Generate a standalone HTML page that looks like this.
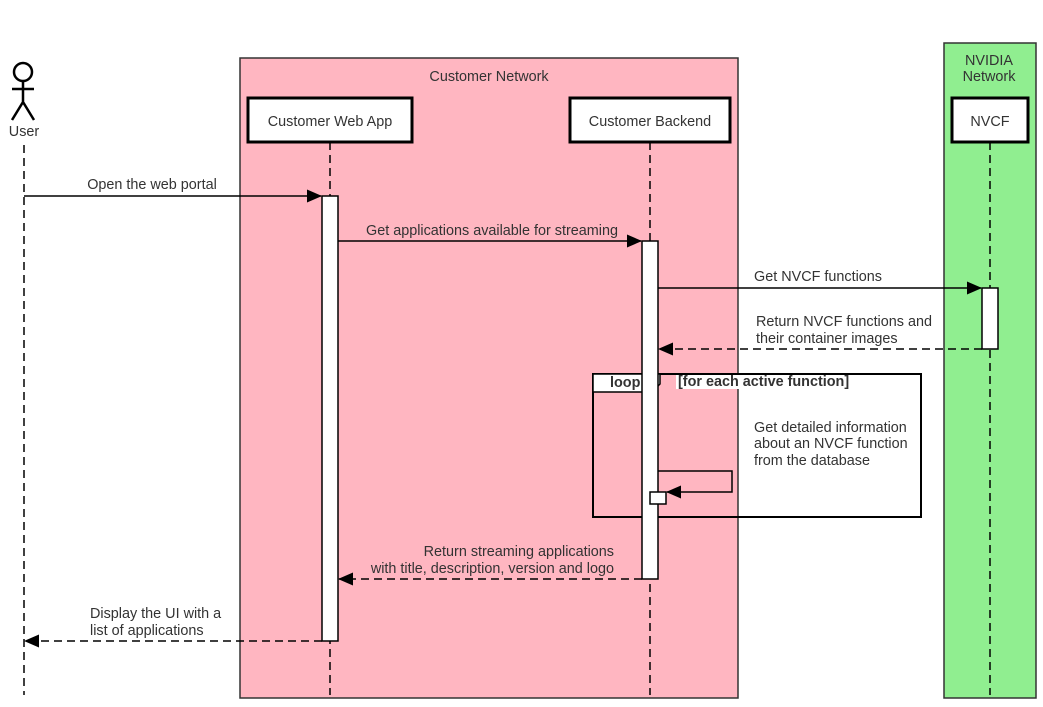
<!DOCTYPE html>
<html><head><style>body{margin:0;background:#fff}svg{display:block}text{font-family:"Liberation Sans",sans-serif;font-size:14.4px;fill:#333}</style></head>
<body>
<svg width="1043" height="707" viewBox="0 0 1043 707">
<defs><marker id="a" markerWidth="15" markerHeight="13" refX="14" refY="6.5" orient="auto" markerUnits="userSpaceOnUse"><path d="M0,0 L15,6.5 L0,13z" fill="#000"/></marker></defs>
<rect x="240" y="58" width="498" height="640" fill="#ffb6c1" stroke="#333" stroke-width="1.5"/>
<text x="489" y="81" text-anchor="middle">Customer Network</text>
<rect x="944" y="43" width="92" height="655" fill="#90ee90" stroke="#333" stroke-width="1.5"/>
<text x="989" y="65" text-anchor="middle">NVIDIA</text>
<text x="989" y="81" text-anchor="middle">Network</text>
<circle cx="23" cy="72" r="9" fill="none" stroke="#000" stroke-width="2.5"/>
<path d="M23,81V102M12,89H34M23,102L12,120M23,102L34,120" stroke="#000" stroke-width="2.5" fill="none"/>
<text x="24" y="136" text-anchor="middle">User</text>
<g stroke="#000" stroke-dasharray="8,5" stroke-width="1.5">
<line x1="24" y1="145" x2="24" y2="695"/>
<line x1="330" y1="142" x2="330" y2="695"/>
<line x1="650" y1="142" x2="650" y2="695"/>
<line x1="990" y1="142" x2="990" y2="695"/>
</g>
<g fill="#fff" stroke="#000" stroke-width="3">
<rect x="248" y="98" width="164" height="44"/>
<rect x="570" y="98" width="160" height="44"/>
<rect x="952" y="98" width="76" height="44"/>
</g>
<text x="330" y="126" text-anchor="middle" font-size="15">Customer Web App</text>
<text x="650" y="126" text-anchor="middle" font-size="15">Customer Backend</text>
<text x="990" y="126" text-anchor="middle" font-size="15">NVCF</text>
<rect x="593" y="374" width="328" height="143" fill="none" stroke="#000" stroke-width="2"/>
<path d="M593,374H660V384L652,392H593Z" fill="#fff" stroke="#000" stroke-width="1.5"/>
<text x="610" y="387" font-size="11" font-weight="bold" fill="#000">loop</text>
<rect x="676" y="375" width="143" height="14" fill="#fff"/>
<text x="678" y="386" font-size="9.5" font-weight="bold" fill="#000">[for each active function]</text>
<g fill="#fff" stroke="#000" stroke-width="1.5">
<rect x="322" y="196" width="16" height="445"/>
<rect x="642" y="241" width="16" height="338"/>
<rect x="982" y="288" width="16" height="61"/>
</g>
<path d="M658,471H732V492H667" fill="none" stroke="#000" stroke-width="1.5" marker-end="url(#a)"/>
<rect x="650" y="492" width="16" height="12" fill="#fff" stroke="#000" stroke-width="1.5"/>
<g stroke="#000" stroke-width="1.5" fill="none" marker-end="url(#a)">
<line x1="24" y1="196" x2="321" y2="196"/>
<line x1="338" y1="241" x2="641" y2="241"/>
<line x1="658" y1="288" x2="981" y2="288"/>
<line x1="982" y1="349" x2="659" y2="349" stroke-dasharray="8,5"/>
<line x1="642" y1="579" x2="339" y2="579" stroke-dasharray="8,5"/>
<line x1="322" y1="641" x2="25" y2="641" stroke-dasharray="8,5"/>
</g>
<text x="152" y="189" text-anchor="middle">Open the web portal</text>
<text x="492" y="235" text-anchor="middle">Get applications available for streaming</text>
<text x="818" y="281" text-anchor="middle">Get NVCF functions</text>
<text x="756" y="326">Return NVCF functions and</text>
<text x="756" y="343">their container images</text>
<text x="754" y="432">Get detailed information</text>
<text x="754" y="448">about an NVCF function</text>
<text x="754" y="465">from the database</text>
<text x="614" y="556" text-anchor="end">Return streaming applications</text>
<text x="614" y="573" text-anchor="end">with title, description, version and logo</text>
<text x="90" y="618">Display the UI with a</text>
<text x="90" y="635">list of applications</text>
</svg>
</body></html>
